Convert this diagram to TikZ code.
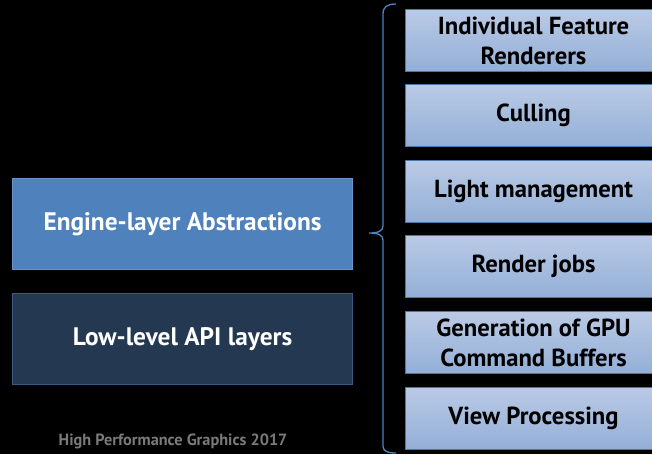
\documentclass[tikz,border=0pt]{standalone}
\usepackage{fontspec}
\setmainfont{PT Sans}
\definecolor{engblue}{HTML}{4F81BD}
\definecolor{lowblue}{HTML}{243851}
\definecolor{lowedge}{HTML}{3B5A80}
\definecolor{itemtop}{HTML}{BACAE6}
\definecolor{itembot}{HTML}{93AFD6}
\definecolor{itemedge}{HTML}{4A76AE}
\definecolor{footgray}{HTML}{7A7A7A}
\begin{document}
\begin{tikzpicture}[x=0.75pt,y=-0.75pt,
  layerbox/.style={draw, line width=0.8pt, minimum width=340*0.75pt, minimum height=91*0.75pt,
    anchor=north west, inner sep=0pt, text=white, font=\bfseries\fontsize{19}{22}\selectfont},
  itembox/.style={draw=itemedge, line width=0.8pt, top color=itemtop, bottom color=itembot,
    minimum width=256*0.75pt, minimum height=62*0.75pt, anchor=north west, inner sep=0pt,
    text=black, align=center, font=\bfseries\fontsize{18.5}{22.5}\selectfont},
  bracestyle/.style={draw=engblue, line width=1pt}]
  \fill[black] (0,0) rectangle (652,454);
  \clip (0,0) rectangle (652,454);

  % left column: the two layers
  \node[layerbox, fill=engblue, draw=engblue!85!white] (engine) at (12,178) {Engine-layer Abstractions};
  \node[layerbox, fill=lowblue, draw=lowedge] (lowlevel) at (12,293) {Low-level API layers};

  % right column: engine-layer components
  \node[itembox] (r1) at (405,9)   {Individual Feature\\Renderers};
  \node[itembox] (r2) at (405,84)  {Culling};
  \node[itembox] (r3) at (405,160) {Light management};
  \node[itembox] (r4) at (405,235) {Render jobs};
  \node[itembox] (r5) at (405,311) {Generation of GPU\\Command Buffers};
  \node[itembox] (r6) at (405,387) {View Processing};

  % brace grouping the components
  \coordinate (btop) at (396,4);
  \coordinate (btip) at (369,233);
  \coordinate (bbot) at (396,453);
  \draw[bracestyle] (btop) .. controls (387,4) and (383,7) .. (383,14)
    -- (383,226) .. controls (383,231) and (378,233) .. (btip)
    .. controls (378,233) and (383,235) .. (383,240)
    -- (383,446) .. controls (383,451) and (387,453) .. (bbot);

  % footer
  \node[text=footgray, font=\bfseries\fontsize{12.2}{14}\selectfont, anchor=west] (footer) at (54,441)
    {High Performance Graphics 2017};
\end{tikzpicture}
\end{document}
